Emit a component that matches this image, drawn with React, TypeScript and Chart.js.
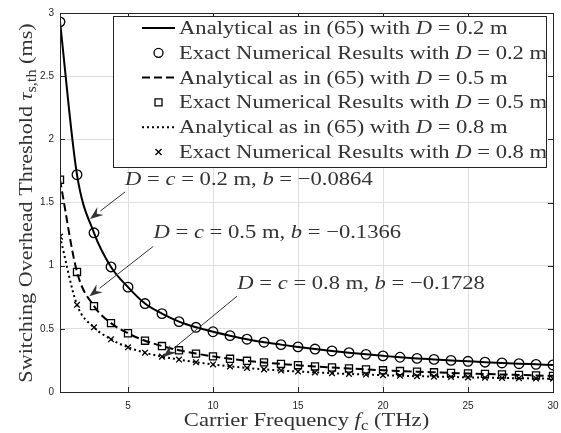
import { useEffect, useRef } from "react";
import { Chart, registerables } from "chart.js";
Chart.register(...registerables);

const frequencies = [1, 2, 3, 4, 5, 6, 7, 8, 9, 10, 11, 12, 13, 14, 15, 16, 17, 18, 19, 20, 21, 22, 23, 24, 25, 26, 27, 28, 29, 30];
const numD02 = [2.93, 1.72, 1.26, 0.99, 0.83, 0.70, 0.62, 0.557, 0.512, 0.477, 0.446, 0.418, 0.394, 0.375, 0.357, 0.340, 0.325, 0.311, 0.298, 0.286, 0.275, 0.266, 0.258, 0.250, 0.243, 0.236, 0.230, 0.224, 0.219, 0.214];
const numD05 = [1.68, 0.95, 0.68, 0.545, 0.465, 0.406, 0.364, 0.330, 0.304, 0.282, 0.263, 0.247, 0.234, 0.222, 0.212, 0.202, 0.194, 0.186, 0.179, 0.172, 0.166, 0.161, 0.156, 0.151, 0.147, 0.143, 0.139, 0.135, 0.131, 0.128];
const numD08 = [1.23, 0.69, 0.512, 0.417, 0.354, 0.311, 0.280, 0.257, 0.236, 0.218, 0.203, 0.190, 0.179, 0.170, 0.162, 0.155, 0.149, 0.143, 0.138, 0.133, 0.129, 0.125, 0.122, 0.119, 0.116, 0.113, 0.111, 0.109, 0.107, 0.105];
const anaD02 = numD02;
const anaD05 = numD05;
const anaD08 = numD08;

const xTicks = [5, 10, 15, 20, 25, 30];
const yTicks = [0, 0.5, 1, 1.5, 2, 2.5, 3];

const legendPrefixes = ["Analytical as in (65) with ", "Exact Numerical Results with ", "Analytical as in (65) with ", "Exact Numerical Results with ", "Analytical as in (65) with ", "Exact Numerical Results with "];
const legendValues = ["0.2", "0.2", "0.5", "0.5", "0.8", "0.8"];

const annotDValues = ["0.2", "0.5", "0.8"];
const annotBValues = ["\u22120.0864", "\u22120.1366", "\u22120.1728"];
const annotTextX = [4.83, 6.5, 11.43];
const annotTextY = [1.642, 1.222, 0.818];
const arrowFromX = [4.83, 6.49, 11.41];
const arrowFromY = [1.584, 1.153, 0.758];
const arrowToX = [2.77, 2.73, 7.08];
const arrowToY = [1.37, 0.758, 0.278];

const SERIF = '"Liberation Serif", "Times New Roman", serif';
const SANS = '"Liberation Sans", Arial, sans-serif';
const INK = "#262626";
const STRETCH = 1.19;

type Seg = { t: string; it?: boolean; sub?: boolean };

function drawRich(ctx: CanvasRenderingContext2D, segs: Seg[], x: number, y: number, size: number, align: "left" | "center", sx: number = STRETCH) {
  const font = (s: Seg) => `${s.it ? "italic " : ""}${s.sub ? Math.round(size * 0.72) : size}px ${SERIF}`;
  let total = 0;
  const ws = segs.map((s) => {
    ctx.font = font(s);
    const w = ctx.measureText(s.t).width;
    total += w;
    return w;
  });
  ctx.save();
  const x0 = align === "center" ? x - (total * sx) / 2 : x;
  ctx.translate(x0, y);
  ctx.scale(sx, 1);
  ctx.textBaseline = "alphabetic";
  ctx.textAlign = "left";
  let cx = 0;
  segs.forEach((s, i) => {
    ctx.font = font(s);
    ctx.fillText(s.t, cx, s.sub ? size * 0.22 : 0);
    cx += ws[i];
  });
  ctx.restore();
  return total * sx;
}

function drawMarker(ctx: CanvasRenderingContext2D, kind: string, x: number, y: number) {
  ctx.save();
  ctx.strokeStyle = "#000";
  ctx.lineWidth = 1.3;
  ctx.setLineDash([]);
  ctx.beginPath();
  if (kind === "circle") {
    ctx.arc(x, y, 4.5, 0, Math.PI * 2);
  } else if (kind === "rect") {
    ctx.rect(x - 3.5, y - 3.5, 7, 7);
  } else {
    ctx.moveTo(x - 3, y - 3);
    ctx.lineTo(x + 3, y + 3);
    ctx.moveTo(x + 3, y - 3);
    ctx.lineTo(x - 3, y + 3);
  }
  ctx.stroke();
  ctx.restore();
}

const decorPlugin = {
  id: "decor",
  afterDraw(chart: any) {
    const ctx: CanvasRenderingContext2D = chart.ctx;
    const { left, right, top, bottom } = chart.chartArea;
    const xs = chart.scales.x;
    const ys = chart.scales.y;
    ctx.save();
    ctx.strokeStyle = INK;
    ctx.lineWidth = 1;
    ctx.setLineDash([]);
    ctx.strokeRect(Math.round(left) + 0.5, Math.round(top) + 0.5, Math.round(right - left), Math.round(bottom - top));
    ctx.beginPath();
    xTicks.forEach((v) => {
      const px = Math.round(xs.getPixelForValue(v)) + 0.5;
      ctx.moveTo(px, bottom);
      ctx.lineTo(px, bottom - 5);
      ctx.moveTo(px, top);
      ctx.lineTo(px, top + 5);
    });
    yTicks.forEach((v) => {
      const py = Math.round(ys.getPixelForValue(v)) + 0.5;
      ctx.moveTo(left, py);
      ctx.lineTo(left + 5, py);
      ctx.moveTo(right, py);
      ctx.lineTo(right - 5, py);
    });
    ctx.stroke();

    for (let i = 0; i < annotDValues.length; i++) {
      const tx = xs.getPixelForValue(annotTextX[i]);
      const ty = ys.getPixelForValue(annotTextY[i]);
      ctx.fillStyle = "#333";
      drawRich(ctx, [
        { t: "D", it: true }, { t: " = " }, { t: "c", it: true }, { t: " = " + annotDValues[i] + " m, " }, { t: "b", it: true }, { t: " = " + annotBValues[i] },
      ], tx, ty, 19, "left");
      const x0 = xs.getPixelForValue(arrowFromX[i]);
      const y0 = ys.getPixelForValue(arrowFromY[i]);
      const x1 = xs.getPixelForValue(arrowToX[i]);
      const y1 = ys.getPixelForValue(arrowToY[i]);
      const ang = Math.atan2(y1 - y0, x1 - x0);
      const hl = 13, hw = 5;
      const bx = x1 - hl * Math.cos(ang), by = y1 - hl * Math.sin(ang);
      ctx.strokeStyle = "#333";
      ctx.lineWidth = 1;
      ctx.beginPath();
      ctx.moveTo(x0, y0);
      ctx.lineTo(bx, by);
      ctx.stroke();
      ctx.fillStyle = "#333";
      ctx.beginPath();
      ctx.moveTo(x1, y1);
      ctx.lineTo(bx + hw * Math.sin(ang), by - hw * Math.cos(ang));
      ctx.lineTo(bx + 0.35 * hl * Math.cos(ang), by + 0.35 * hl * Math.sin(ang));
      ctx.lineTo(bx - hw * Math.sin(ang), by + hw * Math.cos(ang));
      ctx.closePath();
      ctx.fill();
    }

    const lx = 113, ly = 16, lw = 433, lh = 151;
    ctx.fillStyle = "#fff";
    ctx.fillRect(lx, ly, lw, lh);
    ctx.strokeStyle = INK;
    ctx.lineWidth = 1;
    ctx.strokeRect(lx + 0.5, ly + 0.5, lw, lh);
    chart.data.datasets.forEach((ds: any, i: number) => {
      const cy = ly + 12 + i * 24.8;
      if (ds.showLine !== false) {
        ctx.save();
        ctx.strokeStyle = "#000";
        ctx.lineWidth = 2;
        ctx.setLineDash(ds.borderDash || []);
        ctx.beginPath();
        ctx.moveTo(142, cy);
        ctx.lineTo(175, cy);
        ctx.stroke();
        ctx.restore();
      } else {
        drawMarker(ctx, ds.pointStyle, 158.5, cy);
      }
      ctx.fillStyle = "#333";
      drawRich(ctx, [{ t: legendPrefixes[i] }, { t: "D", it: true }, { t: " = " + legendValues[i] + " m" }], 179, cy + 6, 19, "left");
    });

    ctx.fillStyle = "#333";
    drawRich(ctx, [{ t: "Carrier Frequency " }, { t: "f", it: true }, { t: "c", sub: true }, { t: " (THz)" }], (left + right) / 2, 426, 19, "center");
    ctx.save();
    ctx.translate(32, 203);
    ctx.rotate(-Math.PI / 2);
    drawRich(ctx, [{ t: "Switching Overhead Threshold " }, { t: "\u03c4", it: true }, { t: "s,th", sub: true }, { t: " (ms)" }], 0, 0, 19, "center", 1.165);
    ctx.restore();
    ctx.restore();
  },
};

export default function App() {
  const ref = useRef<HTMLCanvasElement>(null);
  useEffect(() => {
    document.body.style.margin = "0";
    const mk = (arr: number[]) => arr.map((y, i) => ({ x: frequencies[i], y }));
    const chart = new Chart(ref.current!, {
      type: "line",
      data: {
        datasets: [
          { label: "Analytical D=0.2", data: mk(anaD02), borderColor: "#000", borderWidth: 2, pointRadius: 0, fill: false, cubicInterpolationMode: "monotone" },
          { label: "Numerical D=0.2", data: mk(numD02), showLine: false, pointStyle: "circle", pointRadius: 4.8, borderColor: "#000", backgroundColor: "rgba(0,0,0,0)", pointBorderWidth: 1.3 },
          { label: "Analytical D=0.5", data: mk(anaD05), borderColor: "#000", borderWidth: 2, borderDash: [8, 4], pointRadius: 0, fill: false, cubicInterpolationMode: "monotone" },
          { label: "Numerical D=0.5", data: mk(numD05), showLine: false, pointStyle: "rect", pointRadius: 5, borderColor: "#000", backgroundColor: "rgba(0,0,0,0)", pointBorderWidth: 1.3 },
          { label: "Analytical D=0.8", data: mk(anaD08), borderColor: "#000", borderWidth: 2, borderDash: [2, 3], pointRadius: 0, fill: false, cubicInterpolationMode: "monotone" },
          { label: "Numerical D=0.8", data: mk(numD08), showLine: false, pointStyle: "crossRot", pointRadius: 4, borderColor: "#000", backgroundColor: "rgba(0,0,0,0)", pointBorderWidth: 1.3 },
        ] as any,
      },
      options: {
        animation: false,
        responsive: false,
        devicePixelRatio: 1,
        layout: { padding: { top: 13, right: 8, left: 0, bottom: 0 } },
        plugins: { legend: { display: false }, tooltip: { enabled: false } },
        scales: {
          x: {
            type: "linear",
            min: 1,
            max: 30,
            afterBuildTicks: (s: any) => { s.ticks = xTicks.map((v) => ({ value: v })); },
            afterFit: (s: any) => { s.height = 41; s.paddingLeft = 0; s.paddingRight = 0; },
            grid: { color: "#dfdfdf", drawTicks: false, lineWidth: 1 },
            border: { display: false },
            ticks: { padding: 8, color: INK, font: { family: SANS, size: 10 }, maxRotation: 0, autoSkip: false },
          },
          y: {
            type: "linear",
            min: 0,
            max: 3,
            afterBuildTicks: (s: any) => { s.ticks = yTicks.map((v) => ({ value: v })); },
            afterFit: (s: any) => { s.width = 60; s.paddingTop = 0; s.paddingBottom = 0; },
            grid: { color: "#dfdfdf", drawTicks: false, lineWidth: 1 },
            border: { display: false },
            ticks: { padding: 6, color: INK, font: { family: SANS, size: 10 }, callback: (v: any) => String(v) },
          },
        },
      } as any,
      plugins: [decorPlugin],
    });
    return () => chart.destroy();
  }, []);
  return (
    <div style={{ width: 561, height: 433, overflow: "hidden" }}>
      <canvas ref={ref} width={561} height={433} style={{ display: "block" }} />
    </div>
  );
}
